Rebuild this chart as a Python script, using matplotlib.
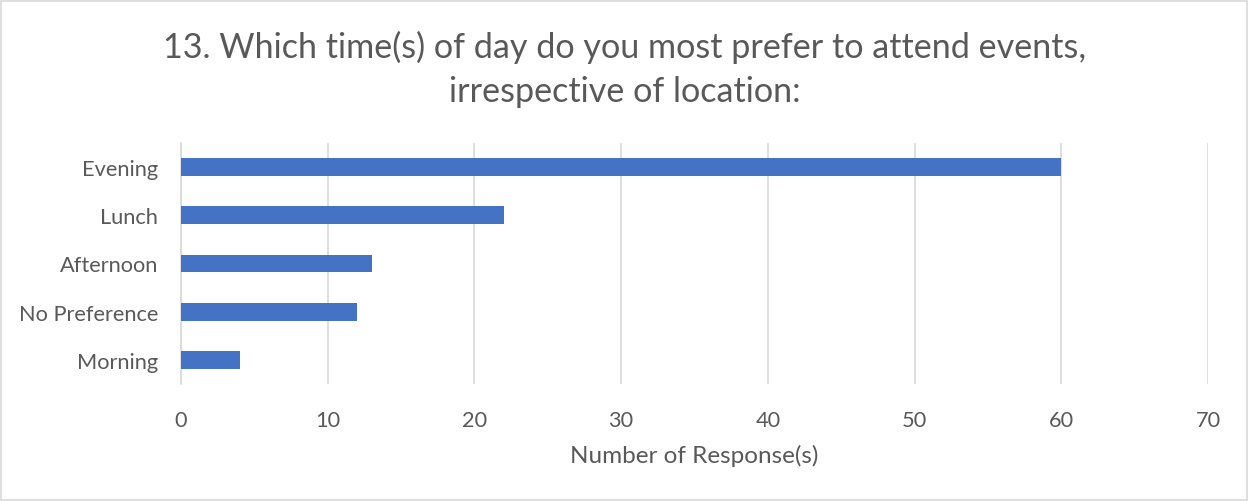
import matplotlib
matplotlib.use("Agg")
import matplotlib.pyplot as plt

# data
categories = ["Evening", "Lunch", "Afternoon", "No Preference", "Morning"]
responses = [60, 22, 13, 12, 4]
x_ticks = [0, 10, 20, 30, 40, 50, 60, 70]

plt.rcParams['font.family'] = ['Lato', 'DejaVu Sans']
text_color = '#595959'
bar_color = '#4472c4'
grid_color = '#d9d9d9'

fig = plt.figure(figsize=(12.49, 5.02), dpi=100)
ax = fig.add_axes([181/1249, 1 - 385/502, (1208 - 181)/1249, 241/502])

pos = list(range(len(categories)))[::-1]
ax.barh(pos, responses, height=0.37, color=bar_color, zorder=3)

ax.set_xlim(0, 70)
ax.set_ylim(-0.5, len(categories) - 0.5)
ax.set_xticks(x_ticks)
ax.set_yticks(pos)
ax.set_yticklabels(categories)
ax.tick_params(axis='both', length=0, labelsize=15.7, colors=text_color)
ax.tick_params(axis='x', pad=19)
ax.tick_params(axis='y', pad=16.5)

ax.grid(axis='x', color=grid_color, linewidth=1.2, zorder=0)
for s in ['top', 'right', 'bottom']:
    ax.spines[s].set_visible(False)
ax.spines['left'].set_color(grid_color)
ax.spines['left'].set_linewidth(1.2)

ax.set_xlabel("Number of Response(s)", fontsize=17.5, color=text_color, labelpad=10)

fig.text(0.5, 1 - 47/502, "13. Which time(s) of day do you most prefer to attend events,",
         ha='center', va='center', fontsize=24.6, color=text_color)
fig.text(0.5, 1 - 92/502, "irrespective of location:",
         ha='center', va='center', fontsize=24.6, color=text_color)

# light border around the chart area
fig.patches.append(plt.Rectangle((0.001, 0.002), 0.997, 0.995, transform=fig.transFigure,
                                 fill=False, edgecolor='#d9d9d9', linewidth=1.2))

fig.savefig("out.png", dpi=100)
